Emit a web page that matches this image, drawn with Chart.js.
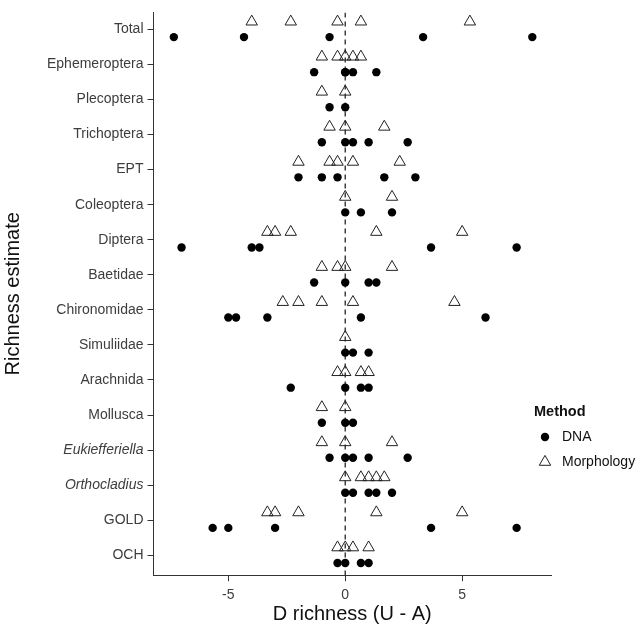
<!DOCTYPE html>
<html>
<head>
<meta charset="utf-8">
<script src="https://cdn.jsdelivr.net/npm/chart.js@4.4.0/dist/chart.umd.min.js"></script>
<style>
  html, body { margin: 0; padding: 0; background: #fff; }
  #wrap { width: 640px; height: 628px; }
</style>
</head>
<body>
<div id="wrap"><canvas id="chart" width="640" height="628"></canvas></div>
<script>
const categories = [
  'Total', 'Ephemeroptera', 'Plecoptera', 'Trichoptera', 'EPT', 'Coleoptera',
  'Diptera', 'Baetidae', 'Chironomidae', 'Simuliidae', 'Arachnida', 'Mollusca',
  'Eukiefferiella', 'Orthocladius', 'GOLD', 'OCH'
];
const italicCategories = ['Eukiefferiella', 'Orthocladius'];
const xTicks = [-5, 0, 5];

// D richness per category
const dnaValues = [
  [-7.33, -4.33, -0.67, 3.33, 8],
  [-1.33, 0, 0, 0.33, 1.33],
  [-0.67, 0],
  [-1, 0, 0.33, 1, 2.67],
  [-2, -1, -0.33, 1.67, 3],
  [0, 0.67, 2],
  [-7, -4, -3.67, 3.67, 7.33],
  [-1.33, 0, 1, 1.33],
  [-5, -4.67, -3.33, 0.67, 6],
  [0, 0.33, 1],
  [-2.33, 0, 0.67, 1],
  [-1, 0, 0.33],
  [-0.67, 0, 0.33, 1, 2.67],
  [0, 0.33, 1, 1.33, 2],
  [-5.67, -5, -3, 3.67, 7.33],
  [-0.33, 0, 0.67, 1]
];
const morphologyValues = [
  [-4, -2.33, -0.33, 0.67, 5.33],
  [-1, -0.33, 0, 0.33, 0.67],
  [-1, 0],
  [-0.67, 0, 1.67],
  [-2, -0.67, -0.33, 0.33, 2.33],
  [0, 2],
  [-3.33, -3, -2.33, 1.33, 5],
  [-1, -0.33, 0, 2],
  [-2.67, -2, -1, 0.33, 4.67],
  [0],
  [-0.33, 0, 0.67, 1],
  [-1, 0],
  [-1, 0, 2],
  [0, 0.67, 1, 1.33, 1.67],
  [-3.33, -3, -2, 1.33, 5],
  [-0.33, 0, 0.33, 1]
];

const dodge = 0.22;
const yMin = -0.485;
const yMax = 15.57;

function toPoints(values, shift) {
  const points = [];
  values.forEach((row, i) => {
    row.forEach((v) => points.push({ x: v, y: i + shift }));
  });
  return points;
}

const fontFamily = "'Liberation Sans', Arial, sans-serif";
Chart.defaults.font.family = fontFamily;

const axisColor = '#333333';
const tickColor = '#3d3d3d';

// ggplot-style legend to the right, drawn with the dataset styles
const methodLegend = {
  id: 'methodLegend',
  afterDraw(chart) {
    const ctx = chart.ctx;
    const x0 = 534;
    const y0 = 412;
    ctx.save();
    ctx.fillStyle = '#111111';
    ctx.textBaseline = 'middle';
    ctx.textAlign = 'left';
    ctx.font = `bold 14.5px ${fontFamily}`;
    ctx.fillText('Method', x0, y0);
    ctx.font = `14px ${fontFamily}`;
    chart.data.datasets.slice(0, 2).forEach((ds, i) => {
      const y = y0 + 25 * (i + 1);
      ctx.fillStyle = ds.backgroundColor;
      ctx.strokeStyle = ds.borderColor;
      ctx.lineWidth = ds.borderWidth;
      Chart.helpers.drawPoint(ctx, {
        pointStyle: ds.pointStyle,
        radius: ds.pointRadius,
        rotation: 0,
        borderWidth: ds.borderWidth
      }, x0 + 11, y);
      ctx.fillStyle = '#111111';
      ctx.fillText(ds.label, x0 + 28, y);
    });
    ctx.restore();
  }
};

new Chart(document.getElementById('chart'), {
  type: 'scatter',
  data: {
    datasets: [
      {
        label: 'DNA',
        data: toPoints(dnaValues, dodge),
        pointStyle: 'circle',
        pointRadius: 4.2,
        backgroundColor: '#000000',
        borderColor: '#000000',
        borderWidth: 0
      },
      {
        label: 'Morphology',
        data: toPoints(morphologyValues, -dodge),
        pointStyle: 'triangle',
        pointRadius: 6.6,
        backgroundColor: 'rgba(0,0,0,0)',
        borderColor: '#222222',
        borderWidth: 1
      },
      {
        label: 'zero',
        type: 'line',
        data: [{ x: 0, y: yMin }, { x: 0, y: yMax }],
        borderColor: '#333333',
        borderWidth: 1.4,
        borderDash: [5, 4],
        pointRadius: 0,
        order: 5
      }
    ]
  },
  options: {
    responsive: false,
    animation: false,
    layout: { padding: { top: 12, right: 89, left: 3, bottom: 4 } },
    plugins: {
      tooltip: { enabled: false },
      legend: { display: false }
    },
    scales: {
      x: {
        type: 'linear',
        min: -8.2,
        max: 8.8,
        afterBuildTicks: (scale) => {
          scale.ticks = xTicks.map((v) => ({ value: v }));
        },
        grid: { display: true, drawOnChartArea: false, tickLength: 6, color: axisColor },
        border: { display: true, color: axisColor, width: 1 },
        ticks: { color: tickColor, font: { size: 14 }, padding: 6 },
        title: {
          display: true,
          text: 'D richness (U - A)',
          color: '#111111',
          font: { size: 20, lineHeight: 1 },
          padding: { top: -6, bottom: 0 }
        }
      },
      y: {
        type: 'linear',
        reverse: true,
        min: yMin,
        max: yMax,
        afterBuildTicks: (scale) => {
          scale.ticks = categories.map((c, i) => ({ value: i }));
        },
        grid: { display: true, drawOnChartArea: false, tickLength: 6, color: axisColor },
        border: { display: true, color: axisColor, width: 1 },
        ticks: {
          color: tickColor,
          padding: 4,
          autoSkip: false,
          callback: (value) => categories[value],
          font: (ctx) => {
            const name = ctx.tick ? categories[ctx.tick.value] : '';
            return { size: 14, style: italicCategories.includes(name) ? 'italic' : 'normal' };
          }
        },
        title: {
          display: true,
          text: 'Richness estimate',
          color: '#111111',
          font: { size: 20, lineHeight: 1 },
          padding: { top: 0, bottom: 20 }
        }
      }
    }
  },
  plugins: [methodLegend]
});
</script>
</body>
</html>
